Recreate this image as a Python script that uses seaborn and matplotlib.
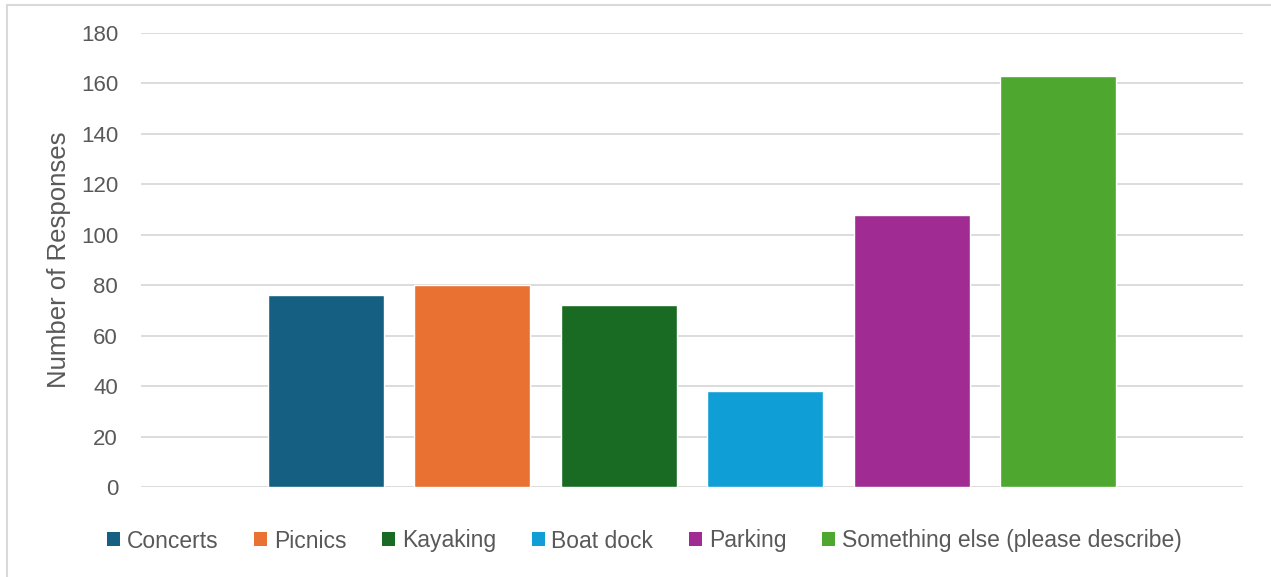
import matplotlib
matplotlib.use("Agg")
import matplotlib.pyplot as plt
import seaborn as sns
import pandas as pd
from matplotlib.patches import Patch, Rectangle

categories = ["Concerts", "Picnics", "Kayaking", "Boat dock", "Parking",
              "Something else (please describe)"]
values = [76, 80, 72, 38, 108, 163]
colors = ["#156082", "#E97132", "#196B24", "#0F9ED5", "#A02B93", "#4EA72E"]
yticks = [0, 20, 40, 60, 80, 100, 120, 140, 160, 180]

sns.set_theme(style="white")
plt.rcParams['font.family'] = ['Liberation Sans', 'DejaVu Sans']
text_color = "#595959"

W, H = 1271, 577
fig = plt.figure(figsize=(W / 100, H / 100), dpi=100)
ax = fig.add_axes([141 / W, 1 - 487 / H, (1243 - 141) / W, (487 - 33) / H])

df = pd.DataFrame({"cat": categories, "val": values})
sns.barplot(data=df, x="cat", y="val", hue="cat", palette=colors,
            width=0.79, legend=False, ax=ax, saturation=1)

ax.set_xlim(-1.26, 5 + 1.26)
ax.set_ylim(0, 180)
ax.set_yticks(yticks)
ax.set_yticklabels([str(t) for t in yticks], fontsize=16, color=text_color)
ax.tick_params(axis="y", length=0, pad=16.5)
ax.set_xticks([])
ax.set_xlabel("")
ax.set_ylabel("Number of Responses", fontsize=18.5, color=text_color, labelpad=7)
ax.yaxis.grid(True, color="#D9D9D9", linewidth=1.3)
ax.set_axisbelow(True)
for s in ax.spines.values():
    s.set_visible(False)

handles = [Patch(facecolor=c, edgecolor="none", label=l) for c, l in zip(colors, categories)]
leg = fig.legend(handles=handles, loc="center", bbox_to_anchor=(0.507, 1 - 541 / H),
                 ncol=6, frameon=False, fontsize=16.5, handlelength=0.55, handleheight=0.55,
                 handletextpad=0.3, columnspacing=1.57)
for t in leg.get_texts():
    t.set_color(text_color)

fig.patches.append(Rectangle((7 / W, -0.01), 1.02, 1 - 4.5 / H + 0.01, transform=fig.transFigure,
                             fill=False, edgecolor="#D9D9D9", linewidth=1.5))

fig.savefig("out.png", dpi=100, facecolor="white")
